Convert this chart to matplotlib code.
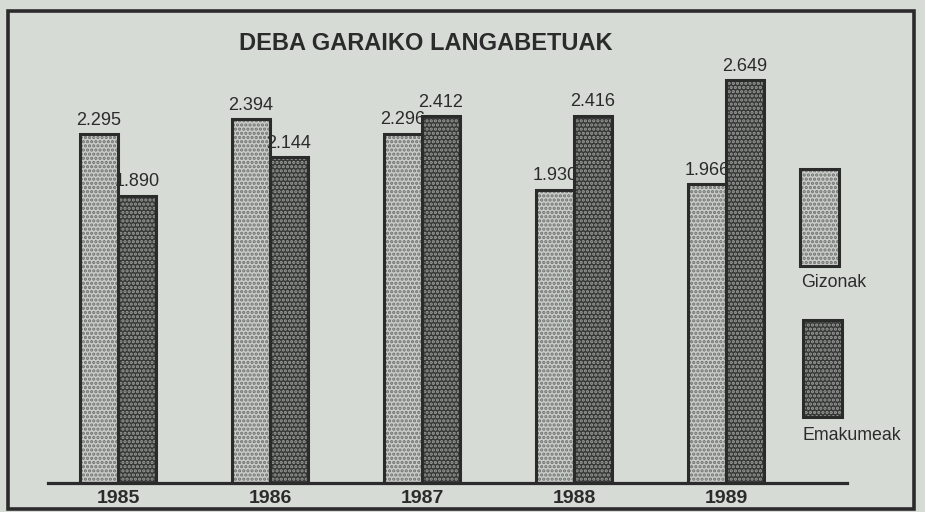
import matplotlib
matplotlib.use("Agg")
import matplotlib.pyplot as plt
from matplotlib.patches import Rectangle

# data (persons out of work, Deba Garaia)
years = ["1985", "1986", "1987", "1988", "1989"]
gizonak = [2295, 2394, 2296, 1930, 1966]
emakumeak = [1890, 2144, 2412, 2416, 2649]
series_names = ["Gizonak", "Emakumeak"]

font = "Liberation Sans"

bg = "#d6dbd6"
ink = "#2b2b2b"
light_face, light_dots = "#c9cdc9", "#6e706e"
dark_face, dark_dots = "#363736", "#9a9d9a"

W, H = 925, 512
fig = plt.figure(figsize=(W / 100, H / 100), dpi=100, facecolor=bg)

def fx(px):
    return px / W

def fy(py):
    return 1 - py / H

# axes: baseline at y=483 px, 152 px per 1000, x from 48 to 847 px
ax_left, ax_right = 48, 847
base, top = 483, 483 - 152 * 3
ax = fig.add_axes([fx(ax_left), fy(base), fx(ax_right - ax_left), (base - top) / H])
ax.set_facecolor("none")
ax.set_ylim(0, 3000)
step = 152
x0 = (ax_left - 118) / step
ax.set_xlim(x0, x0 + (ax_right - ax_left) / step)

bw = 38 / step
xs = list(range(len(years)))
xl = [x - bw / 2 for x in xs]
xd = [x + bw / 2 for x in xs]

# stipple fill, then outline
plt.rcParams["hatch.linewidth"] = 1.6
ax.bar(xl, gizonak, bw, color=light_face, edgecolor=light_dots, hatch="....", linewidth=0)
ax.bar(xd, emakumeak, bw, color=dark_face, edgecolor=dark_dots, hatch="....", linewidth=0)
ax.bar(xl, gizonak, bw, fill=False, edgecolor=ink, linewidth=2.2)
ax.bar(xd, emakumeak, bw, fill=False, edgecolor=ink, linewidth=2.2)

def fmt(v):
    return "{:,}".format(v).replace(",", ".")

for x, v in zip(xl, gizonak):
    ax.annotate(fmt(v), (x, v), xytext=(0, 4), textcoords="offset points",
                ha="center", va="bottom", fontsize=13, family=font, color=ink)
for x, v in zip(xd, emakumeak):
    ax.annotate(fmt(v), (x, v), xytext=(0, 4), textcoords="offset points",
                ha="center", va="bottom", fontsize=13, family=font, color=ink)

for s in ["top", "right", "left"]:
    ax.spines[s].set_visible(False)
ax.spines["bottom"].set_linewidth(2.3)
ax.spines["bottom"].set_color(ink)
ax.set_yticks([])
ax.set_xticks(xs)
ax.set_xticklabels(years, fontsize=14, family=font, fontweight="bold", color=ink)
ax.tick_params(axis="x", length=0, pad=5)

# title
fig.text(fx(426), fy(50), "DEBA GARAIKO LANGABETUAK", ha="center", va="baseline",
         fontsize=17, fontweight="bold", family=font, color=ink)

# legend
fig.patches.append(Rectangle((fx(800), fy(266)), fx(39), 97 / H, transform=fig.transFigure,
                             facecolor=light_face, edgecolor=light_dots, hatch="....", linewidth=0))
fig.patches.append(Rectangle((fx(800), fy(266)), fx(39), 97 / H, transform=fig.transFigure,
                             fill=False, edgecolor=ink, linewidth=2.2))
fig.patches.append(Rectangle((fx(803), fy(417)), fx(39), 97 / H, transform=fig.transFigure,
                             facecolor=dark_face, edgecolor=dark_dots, hatch="....", linewidth=0))
fig.patches.append(Rectangle((fx(803), fy(417)), fx(39), 97 / H, transform=fig.transFigure,
                             fill=False, edgecolor=ink, linewidth=2.2))
fig.text(fx(801), fy(287), series_names[0], ha="left", va="baseline",
         fontsize=12.8, family=font, color=ink)
fig.text(fx(803), fy(440), series_names[1], ha="left", va="baseline",
         fontsize=12.8, family=font, color=ink)

# outer frame
fig.patches.append(Rectangle((fx(8), fy(509)), fx(906), 498 / H, transform=fig.transFigure,
                             fill=False, edgecolor=ink, linewidth=2.6))

fig.savefig("out.png", dpi=100, facecolor=bg)
